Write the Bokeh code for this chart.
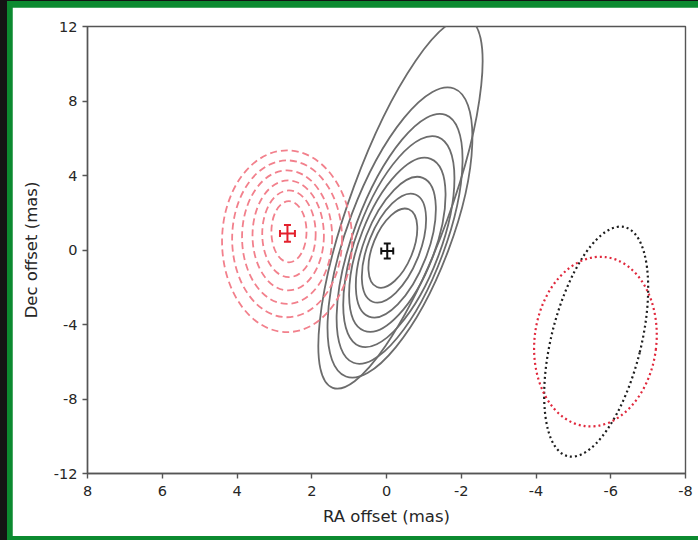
from bokeh.plotting import figure
from bokeh.models import Range1d, FixedTicker, Whisker, ColumnDataSource, TeeHead
from bokeh.layouts import column
from bokeh.embed import file_html
from bokeh.resources import INLINE

# ---- data (mas) ----
x_ticks = [8, 6, 4, 2, 0, -2, -4, -6, -8]
x_tick_labels = ["8", "6", "4", "2", "0", "-2", "-4", "-6", "-8"]
y_ticks = [12, 8, 4, 0, -4, -8, -12]
y_tick_labels = ["12", "8", "4", "0", "-4", "-8", "-12"]

# black solid contours (ellipse approximations): centre, width (RA), height (Dec), tilt
black_cx = [-0.17, -0.20, -0.25, -0.29, -0.33, -0.35, -0.36, -0.374]
black_cy = [0.10, 0.10, 0.15, 0.28, 0.45, 0.60, 0.94, 2.50]
black_w = [1.07, 1.38, 1.70, 2.00, 2.25, 2.45, 2.76, 2.65]
black_h = [4.51, 6.20, 8.00, 9.90, 12.00, 14.20, 16.53, 21.10]
black_ang = [-0.39, -0.38, -0.37, -0.37, -0.36, -0.356, -0.359, -0.352]

# red dashed contours
red_cx = [2.66, 2.66, 2.66, 2.63, 2.61, 2.61]
red_cy = [0.47, 0.60, 0.69, 0.78, 0.87, 0.98]
red_w = [3.48, 2.94, 2.41, 1.91, 1.43, 0.94]
red_h = [9.76, 8.42, 7.17, 5.91, 4.66, 3.28]

# beams (dotted)
beam_cx = [-5.61, -5.59]
beam_cy = [-4.92, -4.92]
beam_w = [2.40, 3.26]
beam_h = [12.69, 9.14]
beam_ang = [-0.244, -0.12]
beam_col = ["#1e1e1e", "#e0283c"]

# peak positions with errors
pk_x = [-0.02, 2.65]
pk_y = [-0.05, 0.89]
pk_ex = [0.16, 0.20]
pk_ey = [0.40, 0.45]
pk_col = ["#111111", "#e3202c"]

p = figure(width=686, height=529, x_range=Range1d(8, -8), y_range=Range1d(-12, 12),
           output_backend="svg", toolbar_location=None,
           min_border_left=75, min_border_right=13, min_border_top=19, min_border_bottom=63,
           background_fill_color="white", border_fill_color="white")
p.xgrid.visible = False
p.ygrid.visible = False
p.outline_line_color = "#555555"
p.outline_line_width = 1.4

for ax, ticks, labs in ((p.xaxis[0], x_ticks, x_tick_labels), (p.yaxis[0], y_ticks, y_tick_labels)):
    ax.ticker = FixedTicker(ticks=ticks)
    ax.major_label_overrides = {t: l for t, l in zip(ticks, labs)}
    ax.minor_tick_line_color = None
    ax.major_tick_in = 0
    ax.major_tick_out = 5
    ax.axis_line_color = "#555555"
    ax.axis_line_width = 1.4
    ax.major_tick_line_color = "#555555"
    ax.major_tick_line_width = 1.4
    ax.major_label_text_font = "DejaVu Sans"
    ax.major_label_text_font_size = "14.5px"
    ax.major_label_text_color = "#262626"
    ax.axis_label_text_font = "DejaVu Sans"
    ax.axis_label_text_font_size = "16.5px"
    ax.axis_label_text_font_style = "normal"
    ax.axis_label_text_color = "#262626"
    ax.major_label_standoff = 5

p.xaxis.axis_label = "RA offset (mas)"
p.yaxis.axis_label = "Dec offset (mas)"
p.xaxis.major_label_standoff = 7
p.xaxis.axis_label_standoff = 8
p.yaxis.axis_label_standoff = 10

p.ellipse(x=black_cx, y=black_cy, width=black_w, height=black_h, angle=black_ang,
          fill_color=None, line_color="#6c6c6c", line_width=1.8)
p.ellipse(x=red_cx, y=red_cy, width=red_w, height=red_h,
          fill_color=None, line_color="#f2808c", line_width=1.8, line_dash="7 4")
p.ellipse(x=beam_cx, y=beam_cy, width=beam_w, height=beam_h, angle=beam_ang,
          fill_color=None, line_color=beam_col, line_width=2.2, line_dash="2 3")

src = ColumnDataSource(dict(
    x=pk_x, y=pk_y, col=pk_col,
    xl=[a - b for a, b in zip(pk_x, pk_ex)], xu=[a + b for a, b in zip(pk_x, pk_ex)],
    yl=[a - b for a, b in zip(pk_y, pk_ey)], yu=[a + b for a, b in zip(pk_y, pk_ey)],
))
for dim, base, lo, up in (("width", "y", "xl", "xu"), ("height", "x", "yl", "yu")):
    w = Whisker(source=src, base=base, lower=lo, upper=up, dimension=dim,
                line_color="col", line_width=2,
                upper_head=TeeHead(size=7, line_color="col", line_width=2),
                lower_head=TeeHead(size=7, line_color="col", line_width=2))
    p.add_layout(w)

inner = column(p, styles={"background-color": "#0c8a30", "padding": "6px 0px 4px 5px"})
outer = column(inner, styles={"background-color": "#141414", "padding": "1px 0px 1px 7px"})

open("out.html", "w").write(file_html(outer, INLINE))
